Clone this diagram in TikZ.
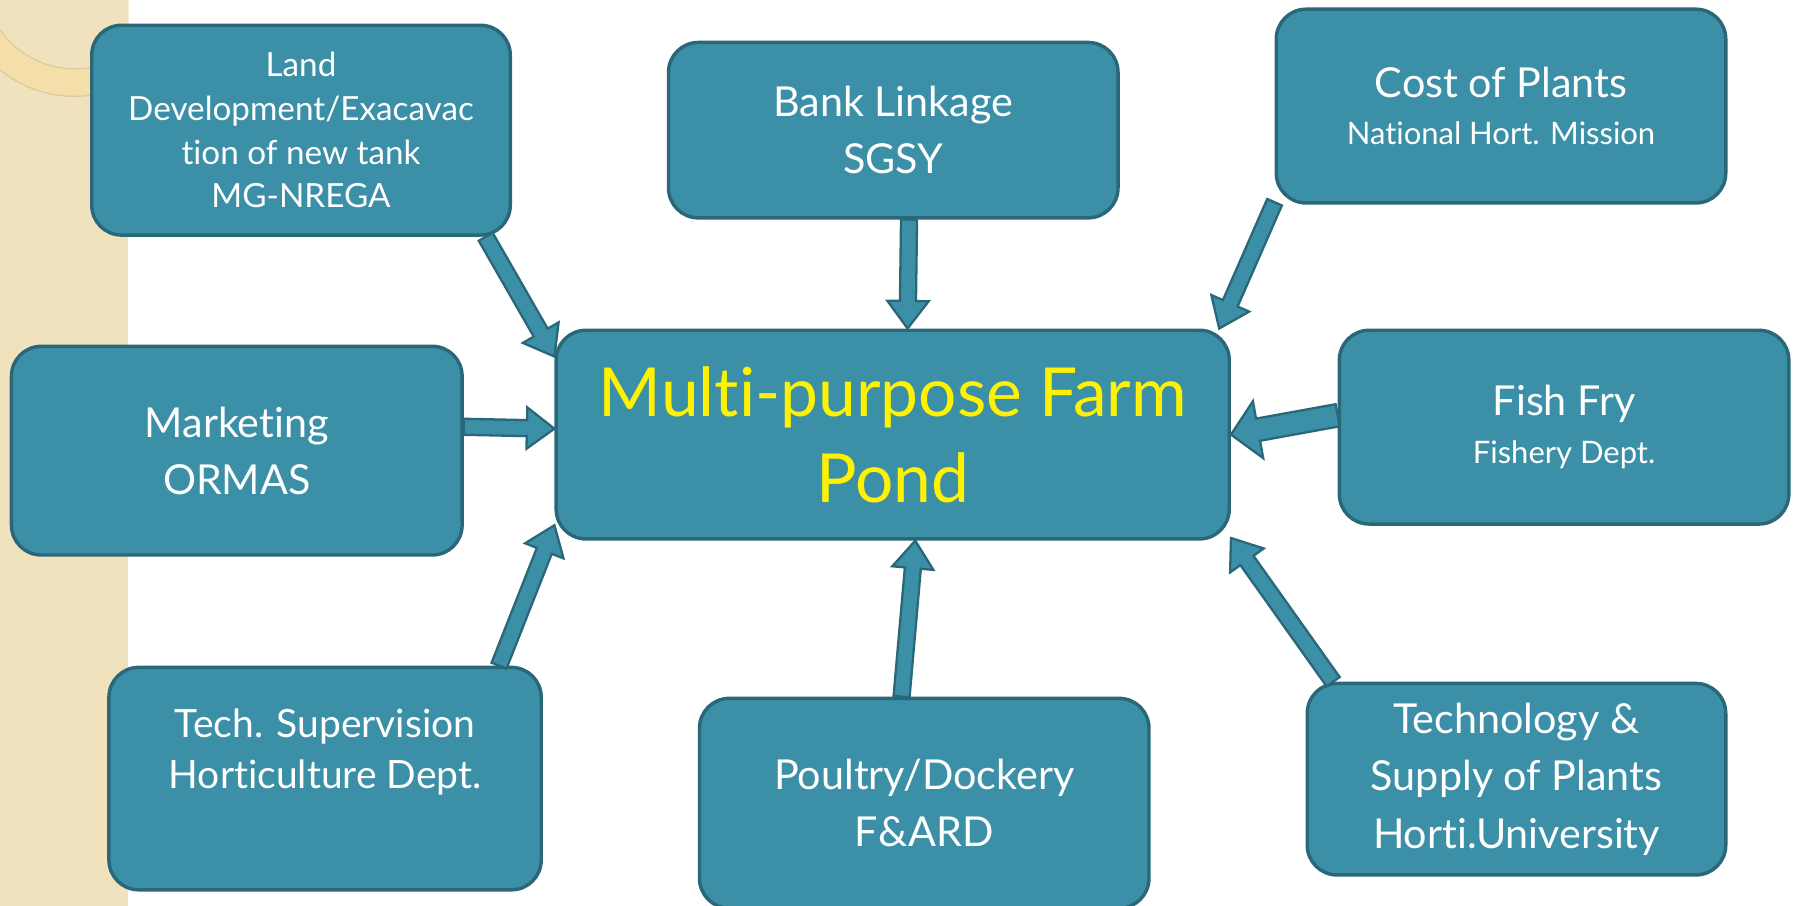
\documentclass[tikz,border=0pt]{standalone}
\usepackage{fontspec}
\setmainfont{Lato}[Ligatures=NoCommon]
\usepackage{tikz}
\usetikzlibrary{positioning, calc}

\definecolor{pondteal}{HTML}{3B8FA7}
\definecolor{pondedge}{HTML}{2A6779}
\definecolor{stripbeige}{HTML}{F1E2BE}
\definecolor{ringgold}{HTML}{F4DFA8}
\definecolor{ringline}{HTML}{D9C8A0}

\newcommand{\bigtext}{\fontsize{36}{50}\selectfont}
\newcommand{\smalltext}{\fontsize{27}{38}\selectfont}

% block arrow from #2 to #3, #1 scales its width
\newcommand{\blockarrow}[3][1]{%
  \coordinate (ba_t) at (#2);
  \coordinate (ba_h) at (#3);
  \coordinate (ba_n) at ($(ba_h)!24pt!(ba_t)$);
  \draw[arrowbox] ($(ba_t)!#1*7pt!90:(ba_h)$) -- ($(ba_n)!#1*7pt!-90:(ba_t)$)
    -- ($(ba_n)!#1*18pt!-90:(ba_t)$) -- (ba_h) -- ($(ba_n)!#1*18pt!90:(ba_t)$)
    -- ($(ba_n)!#1*7pt!90:(ba_t)$) -- ($(ba_t)!#1*7pt!-90:(ba_h)$) -- cycle;}

\begin{document}
\begin{tikzpicture}[x=1pt, y=1pt, on grid,
    every node/.style={align=center, text=white},
    box/.style={draw=pondedge, fill=pondteal, line width=3pt, rounded corners=26pt,
      inner sep=0pt, font=\bigtext},
    arrowbox/.style={draw=pondedge, fill=pondteal, line width=2pt, line join=miter}]

    \useasboundingbox (0,0) rectangle (1568,-790);

    % beige strip on the left
    \fill[stripbeige] (0,0) rectangle (112,-790);
    \begin{scope}
      \clip (0,0) rectangle (112,-790);
      \fill[ringgold] (65,19) circle (103);
      \fill[stripbeige] (65,19) circle (79);
      \draw[ringline, line width=1pt] (65,19) circle (79) (65,19) circle (103);
    \end{scope}

    \node[box, minimum width=587pt, minimum height=182pt, text=yellow,
      font=\fontsize{59}{75}\selectfont] (pond) at (778.5,-379) {Multi-purpose Farm\\Pond};

    \node[box, minimum width=365pt, minimum height=183pt, font=\fontsize{29}{38}\selectfont]
      (land) [above left=265.5pt and 516pt of pond] {Land\\Development/Exacavac\\tion of new tank\\MG-NREGA};
    \node[box, minimum width=392pt, minimum height=153pt]
      (bank) [above right=265.5pt and 0.5pt of pond] {Bank Linkage\\SGSY};
    \node[box, minimum width=392pt, minimum height=169pt, text depth=0pt]
      (cost) [above right=286.5pt and 530.5pt of pond] {Cost of Plants\\[-9pt]{\smalltext National Hort. Mission}};
    \node[box, minimum width=393pt, minimum height=182pt]
      (mkt) [below left=14pt and 572pt of pond] {Marketing\\ORMAS};
    \node[box, minimum width=392pt, minimum height=169pt]
      (fish) [above right=6.5pt and 585.5pt of pond] {Fish Fry\\[-8pt]{\smalltext Fishery Dept.}};
    \node[box, minimum width=377pt, minimum height=194pt, font=\fontsize{34}{45}\selectfont, text depth=52pt]
      (tech) [below left=300pt and 495pt of pond] {Tech. Supervision\\Horticulture Dept.};
    \node[box, minimum width=392pt, minimum height=183pt]
      (poul) [below right=321.5pt and 27.5pt of pond] {Poultry/Dockery\\F\&ARD};
    \node[box, minimum width=365pt, minimum height=167pt]
      (horti) [below right=300.5pt and 544pt of pond] {Technology \&\\Supply of Plants\\Horti.University};

    \blockarrow{land.-30}{pond.167}
    \blockarrow{bank.-80}{pond.82}
    \blockarrow{cost.-157}{pond.18}
    \blockarrow{mkt.6}{pond.179}
    \blockarrow[1.4]{fish.177}{pond.0}
    \blockarrow{tech.33}{pond.195}
    \blockarrow{poul.102}{pond.-78}
    \blockarrow{horti.152}{pond.-17}
\end{tikzpicture}
\end{document}
